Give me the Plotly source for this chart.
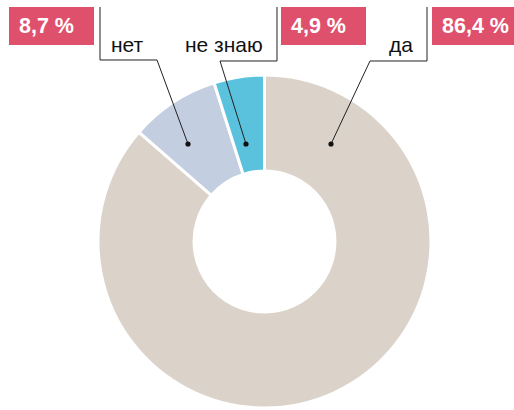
import plotly.graph_objects as go

labels = ["да", "нет", "не знаю"]
values = [86.4, 8.7, 4.9]
pct_text = ["86,4 %", "8,7 %", "4,9 %"]
colors = ["#dbd3ca", "#c3cfe0", "#5bc2dd"]

W, H = 514, 410
RED = "#df506d"
FONT = "Liberation Sans, Arial, sans-serif"

def px(x):
    return x / W

def py(y):
    return 1 - y / H

fig = go.Figure(go.Pie(
    labels=labels, values=values, sort=False, direction="clockwise", rotation=0,
    hole=0.423, textinfo="none", hoverinfo="none",
    marker=dict(colors=colors, line=dict(color="white", width=3)),
    domain=dict(x=[98 / W, 431 / W], y=[2 / H, 335 / H]),
    showlegend=False,
))

shapes = []
annotations = []

# callout geometry (pixels): bracket path, dot, label anchor, red box
callouts = [
    # да
    dict(path=[(427, 7), (427, 61), (370, 61), (331, 144)], dot=(331, 144),
         tx=415, tanchor="right", box=(432, 520), ptx=441),
    # нет
    dict(path=[(100, 7), (100, 60), (157, 60), (188, 144)], dot=(188, 144),
         tx=109, tanchor="left", box=(9, 94), ptx=18),
    # не знаю
    dict(path=[(277, 7), (277, 61), (220, 61), (246, 144)], dot=(246, 144),
         tx=265, tanchor="right", box=(281, 366), ptx=290),
]

for lab, pt, c in zip(labels, pct_text, callouts):
    p = c["path"]
    d = "M " + " L ".join(f"{px(x):.5f},{py(y):.5f}" for x, y in p)
    shapes.append(dict(type="path", path=d, xref="paper", yref="paper",
                       line=dict(color="#222222", width=1), layer="above"))
    dx, dy = c["dot"]
    r = 2.6
    shapes.append(dict(type="circle", xref="paper", yref="paper",
                       x0=px(dx - r), x1=px(dx + r), y0=py(dy - r), y1=py(dy + r),
                       fillcolor="#111111", line=dict(width=0), layer="above"))
    annotations.append(dict(text=lab, x=px(c["tx"]), y=py(44.5), xref="paper", yref="paper",
                            xanchor=c["tanchor"], yanchor="middle", showarrow=False,
                            font=dict(family=FONT, size=21, color="#111111")))
    b0, b1 = c["box"]
    shapes.append(dict(type="rect", xref="paper", yref="paper",
                       x0=px(b0), x1=px(b1), y0=py(7), y1=py(45),
                       fillcolor=RED, line=dict(width=0), layer="above"))
    annotations.append(dict(text="<b>" + pt + "</b>", x=px(c["ptx"] - 1), y=py(26),
                            xref="paper", yref="paper", xanchor="left", yanchor="middle",
                            showarrow=False,
                            font=dict(family=FONT, size=21.5, color="white")))

fig.update_layout(
    width=W, height=H, margin=dict(l=0, r=0, t=0, b=0),
    paper_bgcolor="white", plot_bgcolor="white",
    shapes=shapes, annotations=annotations,
)

fig.write_html(
    "out.html",
    config={"displayModeBar": False},
    post_script="document.body.style.margin='0';document.body.style.padding='0';"
                "document.body.style.overflow='hidden';",
)
